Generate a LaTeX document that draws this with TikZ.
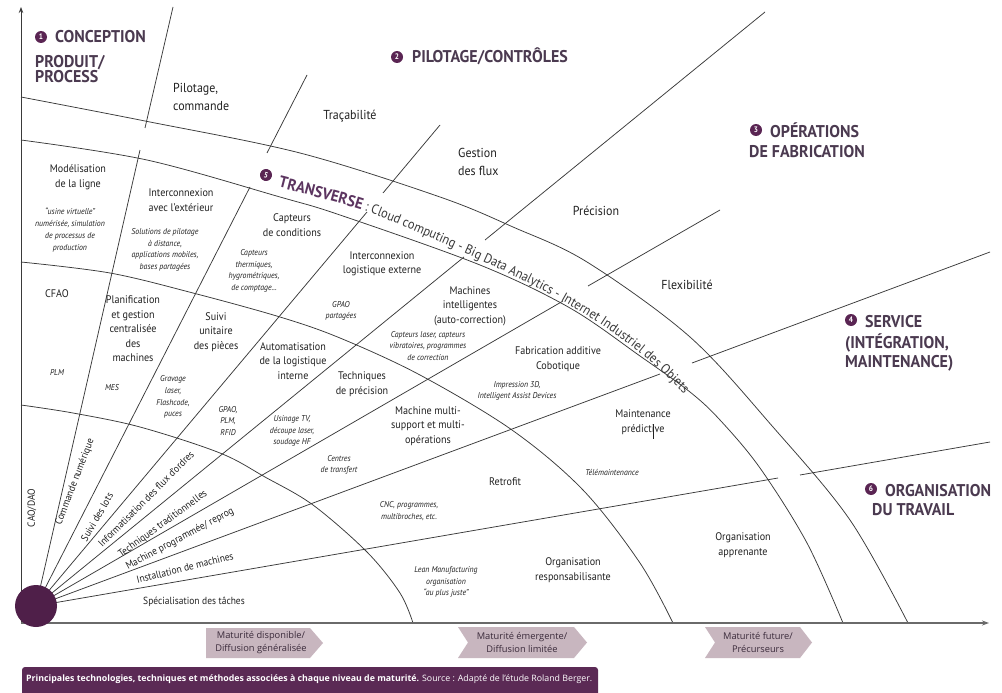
\documentclass[tikz,border=0pt]{standalone}
\usepackage{fontspec}
\usepackage{graphicx}
\setmainfont{PT Sans}[FakeStretch=0.92]
\newfontfamily\headfont{PT Sans}[FakeStretch=0.94]
\newfontfamily\capfont{Open Sans}
\usetikzlibrary{arrows.meta,decorations.text}

\definecolor{ink}{HTML}{222222}
\definecolor{rule}{HTML}{3A3A3A}
\definecolor{headcol}{HTML}{4B3A50}
\definecolor{numcol}{HTML}{5A2553}
\definecolor{transcol}{HTML}{5C3560}
\definecolor{bandink}{HTML}{3A3A3A}
\definecolor{origincol}{HTML}{4F1F49}
\definecolor{boxfill}{HTML}{C8B6BF}
\definecolor{boxink}{HTML}{3A2A3A}
\definecolor{bannercol}{HTML}{5B2A55}
\definecolor{axiscol}{HTML}{6A6A6A}

\newcommand\bandhead{\headfont\bfseries\fontsize{16}{18}\selectfont\color{transcol}}
\newcommand\bandbody{\fontsize{13.5}{15}\selectfont\color{bandink}}

\tikzset{
  lbl/.style={font=\fontsize{11}{14.5}\selectfont, text=ink, align=center, inner sep=0pt},
  lblout/.style={font=\fontsize{13}{17.5}\selectfont, text=ink, align=left, inner sep=0pt, anchor=west},
  note/.style={font=\itshape\fontsize{8.5}{11.7}\selectfont, text=ink, align=center, inner sep=0pt},
  radlbl/.style={font=\fontsize{10.3}{11}\selectfont, text=ink, inner sep=0pt},
  head/.style={font=\headfont\bfseries\fontsize{17}{20}\selectfont, text=headcol, anchor=base west, inner sep=0pt},
  numdot/.style={circle, fill=numcol, text=white, inner sep=0pt, minimum size=12pt, font=\bfseries\fontsize{8}{8}\selectfont},
  ray/.style={draw=rule, line width=0.75pt},
  ring/.style={draw=rule, line width=0.75pt},
  matbox/.style={fill=boxfill},
  mattext/.style={font=\capfont\fontsize{9.3}{13}\selectfont, text=boxink, align=center, inner sep=0pt},
}

\begin{document}
\begin{tikzpicture}[x=1pt,y=-1pt]
\useasboundingbox (0,0) rectangle (1002,693);
\fill[white] (0,0) rectangle (1002,693);

% ---- origin of the fan
\coordinate (O) at (36,606);

% ---- radial separators (each broken where it crosses the transverse band)
\coordinate (r1i) at (140,150); \coordinate (r1o) at (145,128); \coordinate (r1e) at (173,7);
\coordinate (r2i) at (250,187); \coordinate (r2o) at (267,153); \coordinate (r2e) at (307,75);
\coordinate (r3i) at (367,212); \coordinate (r3o) at (383,193); \coordinate (r3e) at (440,125);
\coordinate (r4i) at (464,257); \coordinate (r4o) at (485,240); \coordinate (r4e) at (765,12);
\coordinate (r5i) at (563,301); \coordinate (r5o) at (588,286); \coordinate (r5e) at (720,210);
\coordinate (r6i) at (660,374); \coordinate (r6o) at (692,363); \coordinate (r6e) at (990,252);
\coordinate (r7i) at (778,478); \coordinate (r7o) at (800,475); \coordinate (r7e) at (990,442);
\foreach \k in {1,...,7}{
  \draw[ray] (O) -- (r\k i);
  \draw[ray] (r\k o) -- (r\k e);
}

% ---- maturity rings
\draw[ring] plot[smooth, tension=0.55] coordinates {(21,405) (73,413) (140,427) (220,453) (265,477) (313,505) (367,552) (400,593) (413,623)};
\draw[ring] plot[smooth, tension=0.55] coordinates {(21,262) (110,273) (193,293) (280,317) (340,338) (420,375) (512,430) (583,490) (640,563) (673,623)};
\draw[ring] plot[smooth, tension=0.55] coordinates {(21,140) (147,160) (280,197) (340,215) (480,265) (570,308) (640,356) (690,392) (720,420) (760,468) (807,543) (843,623)};
\draw[ring] plot[smooth, tension=0.55] coordinates {(21,97) (145,121) (300,153) (440,197) (513,227) (587,262) (690,337) (773,427) (850,520) (908,623)};

% ---- axes
\coordinate (corner) at (21,623);
\coordinate (ytip) at (21,7);
\coordinate (xtip) at (989,623);
\draw[draw=rule, line width=0.9pt, -{Stealth[length=6pt,width=4.5pt]}] (corner) -- (ytip);
\draw[draw=axiscol, line width=1.4pt, -{Stealth[length=7pt,width=5pt]}] (corner) -- (xtip);

\node[circle, fill=origincol, minimum size=42pt, inner sep=0pt] (origin) at (O) {};

% ---- transverse band text
\node[numdot, rotate=-14] (n5) at (266,175) {5};
\path[decorate, decoration={text along path, text align=left,
  text={|\bandhead|TRANSVERSE|\bandbody| : Cloud computing - Big Data Analytics - Internet Industriel des Objets}}]
  plot[smooth, tension=0.6] coordinates {(278,187) (320,198) (365,211) (410,229) (460,251) (510,274) (555,297) (600,324) (640,353) (672,382) (700,410) (730,442) (755,475)};

% ---- headings
\node[numdot] (n1) at (41,37) {1};
\node[head] (h1a) at (55,43) {CONCEPTION};
\node[head] (h1b) at (35,67) {PRODUIT/};
\node[head] (h1c) at (35,83) {PROCESS};
\node[numdot] (n2) at (397,57) {2};
\node[head] (h2) at (412,63) {PILOTAGE/CONTRÔLES};
\node[numdot] (n3) at (756,130) {3};
\node[head] (h3a) at (770,137) {OPÉRATIONS};
\node[head] (h3b) at (749,157) {DE FABRICATION};
\node[numdot] (n4) at (851,320) {4};
\node[head] (h4a) at (865,327) {SERVICE};
\node[head] (h4b) at (845,348) {(INTÉGRATION,};
\node[head] (h4c) at (845,367) {MAINTENANCE)};
\node[numdot] (n6) at (871,489) {6};
\node[head] (h6a) at (885,496) {ORGANISATION};
\node[head] (h6b) at (872,515) {DU TRAVAIL};

% ---- outer (future) items
\node[lblout] (pilot) at (173,97) {Pilotage,\\commande};
\node[lbl, font=\fontsize{13}{15}\selectfont] (traca) at (350,116) {Traçabilité};
\node[lblout] (gestion) at (458,162) {Gestion\\des flux};
\node[lbl, font=\fontsize{13}{15}\selectfont] (precis) at (596,211) {Précision};
\node[lbl, font=\fontsize{13}{15}\selectfont] (flex) at (687,285) {Flexibilité};

% ---- emerging items
\node[lbl] (model) at (78,177) {Modélisation\\de la ligne};
\node[note] (modeln) at (70,230) {“usine virtuelle”\\numérisée, simulation\\de processus de\\production};
\node[lbl] (interx) at (181,200) {Interconnexion\\avec l’extérieur};
\node[note] (interxn) at (165,250) {Solutions de pilotage\\à distance,\\applications mobiles,\\bases partagées};
\node[lbl] (capt) at (292,225) {Capteurs\\de conditions};
\node[note] (captn) at (254,271) {Capteurs\\thermiques,\\hygrométriques,\\de comptage...};
\node[lbl] (interlog) at (382,264) {Interconnexion\\logistique externe};
\node[note] (gpaop) at (341,311) {GPAO\\partagées};
\node[lbl] (machint) at (470,306) {Machines\\intelligentes\\(auto-correction)};
\node[note] (machintn) at (428,346) {Capteurs laser, capteurs\\vibratoires, programmes\\de correction};
\node[lbl] (fabadd) at (558,359) {Fabrication additive\\Cobotique};
\node[note] (fabaddn) at (517,391) {Impression 3D,\\Intelligent Assist Devices};
\node[lbl] (mpred) at (643,422) {Maintenance\\prédictive};
\draw[ink, line width=0.5pt] (653,424) -- (653,439);
\node[note] (telem) at (612,472) {Télémaintenance};
\node[lbl] (orgapp) at (743,545) {Organisation\\apprenante};

% ---- available items
\node[lbl] (cfao) at (57,294) {CFAO};
\node[note] (plm) at (57,372) {PLM};
\node[lbl] (planif) at (133,329) {Planification\\et gestion\\centralisée\\des\\machines};
\node[note] (mes) at (112,388) {MES};
\node[lbl] (suivi) at (216,332) {Suivi\\unitaire\\des pièces};
\node[note] (grav) at (173,397) {Gravage\\laser,\\Flashcode,\\puces};
\node[lbl] (autolog) at (293,361) {Automatisation\\de la logistique\\interne};
\node[note] (gpao) at (228,421) {GPAO,\\PLM,\\RFID};
\node[note] (usin) at (292,431) {Usinage TV,\\découpe laser,\\soudage HF};
\node[lbl] (techprec) at (362,384) {Techniques\\de précision};
\node[lbl] (machmulti) at (428,426) {Machine multi-\\support et multi-\\opérations};
\node[note] (centres) at (339,465) {Centres\\de transfert};
\node[lbl] (retro) at (505,482) {Retrofit};
\node[note] (cnc) at (409,511) {CNC, programmes,\\multibroches, etc.};
\node[note] (lean) at (446,582) {Lean Manufacturing\\organisation\\“au plus juste”};
\node[lbl] (orgresp) at (573,570) {Organisation\\responsabilisante};

% ---- base items along the rays
\node[radlbl, rotate=90] (cao) at (32,508) {CAO/DAO};
\node[radlbl, rotate=69] (cn) at (75,482) {Commande numérique};
\node[radlbl, rotate=60] (lots) at (97,517) {Suivi des lots};
\node[radlbl, rotate=45] (info) at (146,499) {Informatisation des flux d’ordres};
\node[radlbl, rotate=36] (trad) at (163,524) {Techniques traditionnelles};
\node[radlbl, rotate=28] (prog) at (180,539) {Machine programmée/ reprog};
\node[radlbl, rotate=14] (install) at (185,568) {Installation de machines};
\node[radlbl] (spec) at (194,602) {Spécialisation des tâches};

% ---- maturity tags
\fill[matbox] (206,628) -- (310,628) -- (323,643) -- (310,658) -- (206,658) -- cycle;
\node[mattext] (mat1) at (261,643) {Maturité disponible/\\Diffusion généralisée};
\fill[matbox] (458,627) -- (574,627) -- (587,642.5) -- (574,658) -- (458,658) -- (468,642.5) -- cycle;
\node[mattext] (mat2) at (522,642.5) {Maturité émergente/\\Diffusion limitée};
\fill[matbox] (705,627) -- (800,627) -- (812,642.5) -- (800,658) -- (705,658) -- (715,642.5) -- cycle;
\node[mattext] (mat3) at (758,642.5) {Maturité future/\\Précurseurs};

% ---- caption banner
\fill[bannercol, rounded corners=3pt] (22,700) -- (22,667) -- (598,667) -- (598,700) -- cycle;
\node[anchor=west, text=white, inner sep=0pt] (caption) at (26,679)
  {\resizebox{566pt}{!}{\capfont\bfseries Principales technologies, techniques et méthodes associées à chaque niveau de maturité.\mdseries{} Source : Adapté de l’étude Roland Berger.}};
\end{tikzpicture}
\end{document}
